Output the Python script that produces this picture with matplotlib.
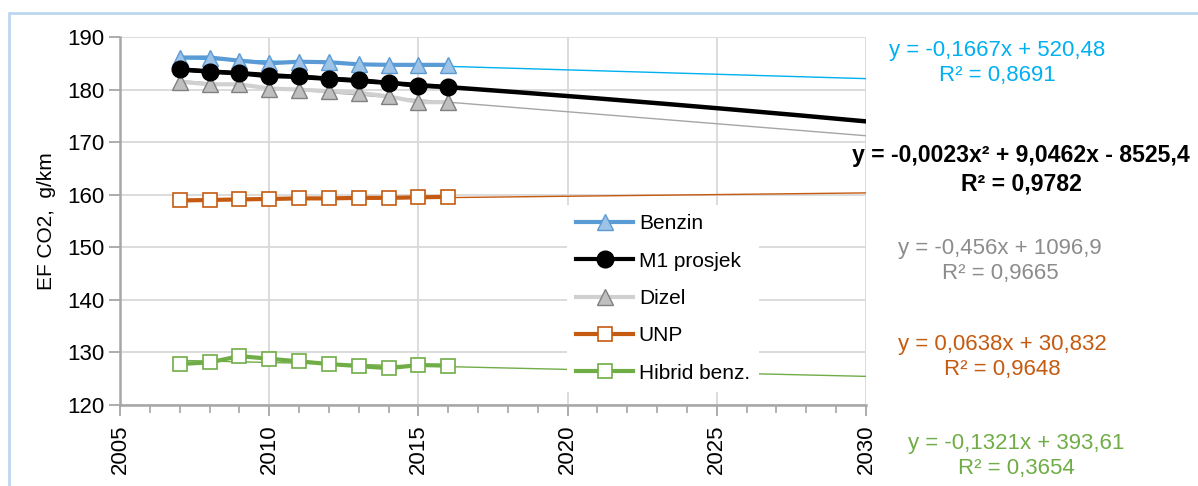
import numpy as np
import matplotlib
matplotlib.use('Agg')
import matplotlib.pyplot as plt
from matplotlib import font_manager
from matplotlib.patches import Rectangle
from matplotlib.ticker import MultipleLocator

# podaci (procjena s grafa)
godine = [2007, 2008, 2009, 2010, 2011, 2012, 2013, 2014, 2015, 2016]
benzin = [186.1, 186.1, 185.5, 185.0, 185.3, 185.2, 184.8, 184.7, 184.7, 184.7]
m1_prosjek = [183.9, 183.4, 183.1, 182.5, 182.5, 182.1, 181.8, 181.3, 180.7, 180.5]
dizel = [181.5, 181.0, 181.0, 180.2, 180.0, 179.7, 179.4, 178.7, 177.6, 177.6]
unp = [158.9, 159.0, 159.1, 159.2, 159.3, 159.3, 159.4, 159.4, 159.5, 159.6]
hibrid = [127.8, 128.1, 129.3, 128.8, 128.3, 127.8, 127.4, 127.0, 127.6, 127.5]

# koeficijenti trendova (s grafa)
trend_benzin = [-0.1667, 520.48]
trend_dizel = [-0.456, 1096.9]
trend_unp = [0.0638, 30.832]
trend_hibrid = [-0.1321, 393.61]

jednadzbe = [
    ('y = -0,1667x + 520,48\nR² = 0,8691', '#00b0f0', 'normal', 997, 63),
    ('y = -0,0023x² + 9,0462x - 8525,4\nR² = 0,9782', 'black', 'bold', 1021, 170),
    ('y = -0,456x + 1096,9\nR² = 0,9665', '#8c8c8c', 'normal', 1000, 261),
    ('y = 0,0638x + 30,832\nR² = 0,9648', '#c55a11', 'normal', 1002, 357),
    ('y = -0,1321x + 393,61\nR² = 0,3654', '#70ad47', 'normal', 1016, 456),
]

imena = {f.name for f in font_manager.fontManager.ttflist}
if 'Liberation Sans Narrow' in imena:
    plt.rcParams['font.family'] = ['Liberation Sans Narrow', 'DejaVu Sans']
    fs_tick, fs_eq, fs_bold, fs_leg = 20, 19.5, 19.5, 17
else:
    plt.rcParams['font.family'] = ['Liberation Sans', 'DejaVu Sans']
    fs_tick, fs_eq, fs_bold, fs_leg = 16, 16, 16.6, 15

W, H = 1198, 486
fig = plt.figure(figsize=(W / 100, H / 100), dpi=100)
ax = fig.add_axes([120 / W, 1 - 405 / H, (866 - 120) / W, (405 - 37) / H])

x_tr = np.linspace(2007, 2030, 200)
ax.plot(x_tr, np.polyval(trend_benzin, x_tr), color='#00b0f0', lw=1, zorder=3)
ax.plot(x_tr, np.polyval(trend_dizel, x_tr), color='#a6a6a6', lw=1, zorder=3)
ax.plot(x_tr, np.polyval(trend_unp, x_tr), color='#c55a11', lw=1, zorder=3)
ax.plot(x_tr, np.polyval(trend_hibrid, x_tr), color='#70ad47', lw=1, zorder=3)
kv = np.polyfit(np.array(godine) - 2000, m1_prosjek, 2)
ax.plot(x_tr, np.polyval(kv, x_tr - 2000), color='black', lw=3.2, zorder=3)

ax.plot(godine, benzin, color='#5b9bd5', lw=3, marker='^', ms=11,
        mfc='#9dc3e6', mec='#5b9bd5', mew=1, label='Benzin', zorder=5)
ax.plot(godine, m1_prosjek, color='black', lw=3, marker='o', ms=12,
        mfc='black', mec='black', label='M1 prosjek', zorder=6)
ax.plot(godine, dizel, color='#d0d0d0', lw=3, marker='^', ms=11,
        mfc='#bfbfbf', mec='#808080', mew=1, label='Dizel', zorder=4)
ax.plot(godine, unp, color='#c55a11', lw=3, marker='s', ms=10,
        mfc='white', mec='#c55a11', mew=1.2, label='UNP', zorder=5)
ax.plot(godine, hibrid, color='#70ad47', lw=3, marker='s', ms=10,
        mfc='white', mec='#70ad47', mew=1.2, label='Hibrid benz.', zorder=5)

ax.set_xlim(2005, 2030)
ax.set_ylim(120, 190)
ax.xaxis.set_major_locator(MultipleLocator(5))
ax.xaxis.set_minor_locator(MultipleLocator(1))
ax.yaxis.set_major_locator(MultipleLocator(10))
ax.grid(True, which='major', color='#d9d9d9', lw=1.3, zorder=0)
for s in ['top', 'right']:
    ax.spines[s].set_visible(False)
for s in ['left', 'bottom']:
    ax.spines[s].set_color('#a6a6a6')
    ax.spines[s].set_linewidth(1.8)
ax.tick_params(axis='both', which='major', length=8, width=1.3, color='#a6a6a6',
               labelsize=fs_tick, pad=3)
ax.tick_params(axis='x', which='minor', length=6, width=1.2, color='#a6a6a6')
ax.tick_params(axis='x', which='major', labelrotation=90, pad=6)
ax.set_ylabel('EF CO2,  g/km', fontsize=fs_leg, labelpad=8)

leg = ax.legend(loc='upper left', bbox_to_anchor=((567 - 120) / (866 - 120), 1 - (205 - 37) / (405 - 37)),
                borderaxespad=0, fontsize=fs_leg, frameon=True, fancybox=False,
                edgecolor='none', facecolor='white', framealpha=1, handlelength=2.7,
                labelspacing=0.88, borderpad=0.45, handletextpad=0.3)
leg.set_zorder(7)

for tekst, boja, tezina, xc, yc in jednadzbe:
    fig.text(xc / W, 1 - yc / H, tekst, color=boja,
             fontsize=fs_bold if tezina == 'bold' else fs_eq, fontweight=tezina,
             ha='center', va='center', linespacing=1.3)

fig.patches.append(Rectangle((9 / W, -0.1), 1.2, 1 - 13 / H + 0.1, fill=False,
                             edgecolor='#bdd7ee', lw=2, transform=fig.transFigure))

fig.savefig('out.png', dpi=100)
